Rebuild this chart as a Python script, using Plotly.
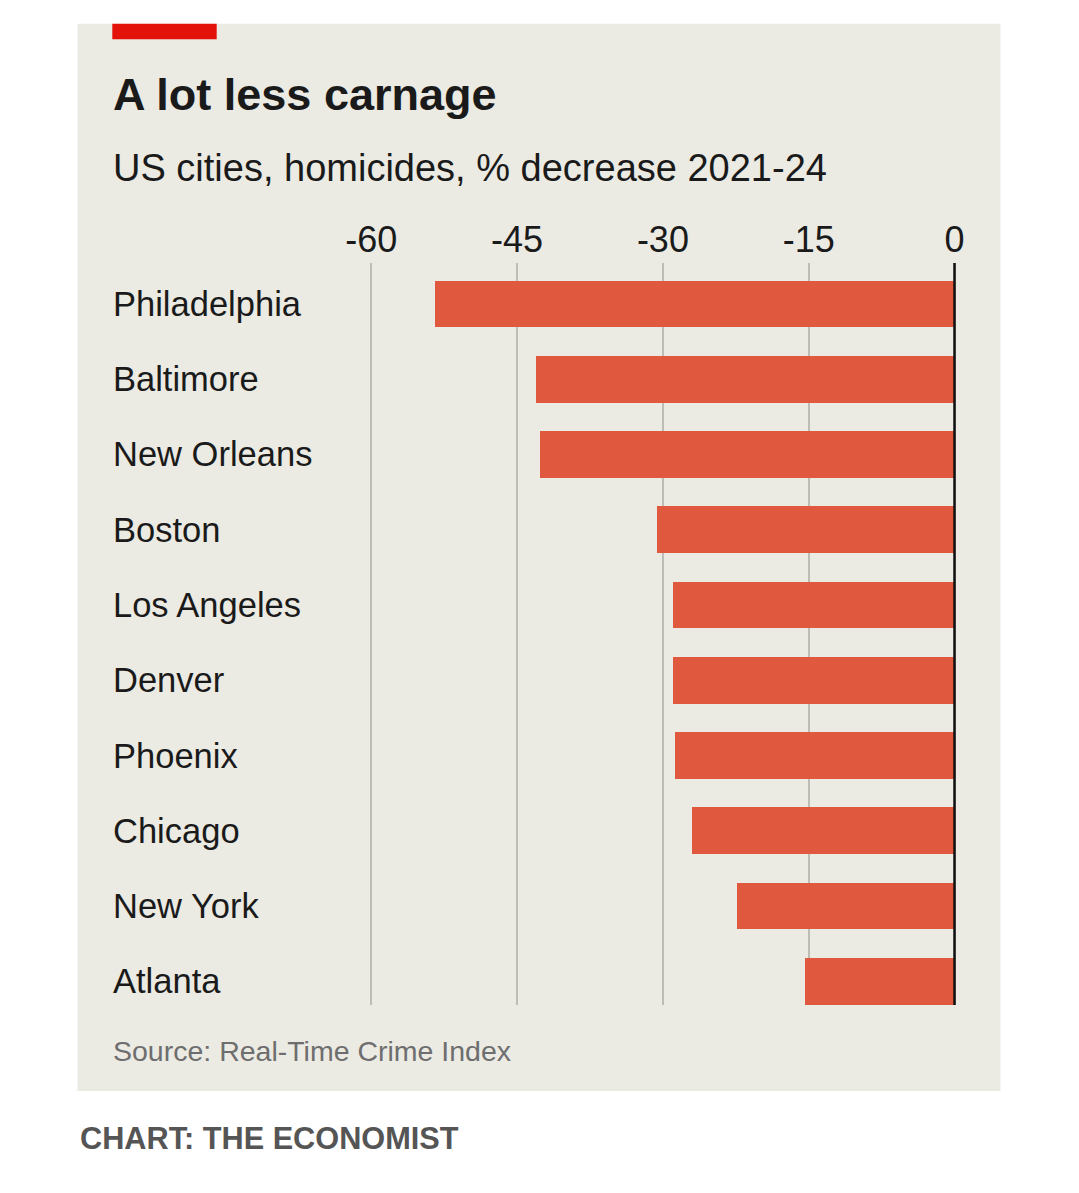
import plotly.graph_objects as go

# ---- data ----
cities = ["Philadelphia", "Baltimore", "New Orleans", "Boston", "Los Angeles",
          "Denver", "Phoenix", "Chicago", "New York", "Atlanta"]
decrease_pct = [-53.4, -43.1, -42.6, -30.6, -29.0, -29.0, -28.8, -27.0, -22.4, -15.4]
tick_values = [-60, -45, -30, -15, 0]
tick_labels = ["-60", "-45", "-30", "-15", "0"]

title_text = "A lot less carnage"
subtitle_text = "US cities, homicides, % decrease 2021-24"
source_text = "Source: Real-Time Crime Index"
credit_text = "CHART: THE ECONOMIST"

# ---- styling / layout geometry (pixels in the page; body has 8px margin) ----
OFF = 8
W, H = 1079 - OFF, 1193 - OFF
L, R, T, B = 340, 980, 263, 1005.5          # page pixels
ZERO_PX, PX_PER_UNIT = 954.5, 9.72
ROW0, ROW_STEP = 304, 75.31

def px(xp):
    return (xp - L) / (R - L)

def py(yp):
    return (B - yp) / (B - T)

FONT = "Liberation Sans, Arial, sans-serif"
PANEL = "#ebeae3"
BAR = "#e0593f"
TEXT = "#1a1a1a"

x_range = [(L - ZERO_PX) / PX_PER_UNIT, (R - ZERO_PX) / PX_PER_UNIT]
y_range = [(B - ROW0) / ROW_STEP, (T - ROW0) / ROW_STEP]

fig = go.Figure()
fig.add_trace(go.Bar(
    x=decrease_pct, y=cities, orientation="h",
    marker=dict(color=BAR, line=dict(width=0)),
    width=0.62, hoverinfo="x+y",
))

shapes = [
    dict(type="rect", xref="paper", yref="paper", layer="below",
         x0=px(77.5), x1=px(1000.5), y0=py(1091.5), y1=py(23.5),
         fillcolor=PANEL, line=dict(width=0)),
    dict(type="rect", xref="paper", yref="paper", layer="above",
         x0=px(112.3), x1=px(216.7), y0=py(39), y1=py(23.5),
         fillcolor="#e3120b", line=dict(width=0)),
    dict(type="line", xref="x", yref="paper", layer="above",
         x0=0, x1=0, y0=0, y1=1, line=dict(color="#111111", width=2.5)),
]

annotations = [
    dict(text=f"<b>{title_text}</b>", xref="paper", yref="paper",
         x=px(111), y=py(94), xanchor="left", yanchor="middle", showarrow=False,
         font=dict(family=FONT, size=45, color=TEXT)),
    dict(text=subtitle_text, xref="paper", yref="paper",
         x=px(111), y=py(168), xanchor="left", yanchor="middle", showarrow=False,
         font=dict(family=FONT, size=38, color=TEXT)),
    dict(text=source_text, xref="paper", yref="paper",
         x=px(111), y=py(1052), xanchor="left", yanchor="middle", showarrow=False,
         font=dict(family=FONT, size=28.5, color="#6e6e6e")),
    dict(text=f"<b>{credit_text}</b>", xref="paper", yref="paper",
         x=px(78), y=py(1139), xanchor="left", yanchor="middle", showarrow=False,
         font=dict(family=FONT, size=30.7, color="#555555")),
]
for c in cities:
    annotations.append(dict(
        text=c, xref="paper", yref="y", x=px(111), y=c,
        xanchor="left", yanchor="middle", showarrow=False,
        font=dict(family=FONT, size=34.5, color=TEXT)))

fig.update_layout(
    width=W, height=H,
    margin=dict(l=L - OFF, r=W - (R - OFF), t=T - OFF, b=H - (B - OFF), pad=0),
    paper_bgcolor="white", plot_bgcolor="rgba(0,0,0,0)",
    showlegend=False, bargap=0,
    shapes=shapes, annotations=annotations,
    font=dict(family=FONT, color=TEXT),
)
fig.update_xaxes(
    side="top", range=x_range, tickvals=tick_values, ticktext=tick_labels,
    tickfont=dict(family=FONT, size=36, color=TEXT), ticks="",
    showgrid=True, gridcolor="#bdbdb8", gridwidth=1.5,
    zeroline=False, showline=False, ticklabelstandoff=3,
)
fig.update_yaxes(
    range=y_range, showticklabels=False, showgrid=False, zeroline=False,
    showline=False, ticks="",
)

fig.write_html("out.html")
